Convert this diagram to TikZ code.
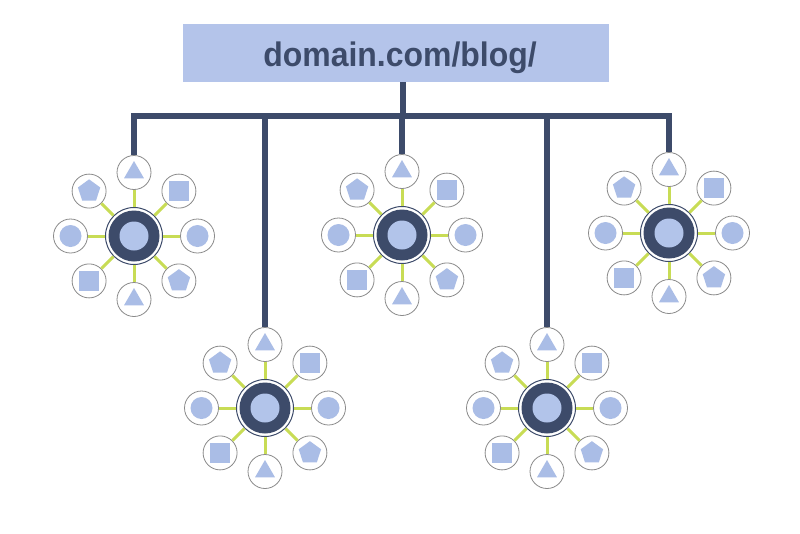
\documentclass[tikz,border=0pt]{standalone}
\usepackage{fontspec}
\setmainfont{Liberation Sans}
\newfontfamily\hdrfont[FakeStretch=0.94]{Liberation Sans}
\usetikzlibrary{shapes.geometric}
\definecolor{navy}{HTML}{3D4B6A}
\definecolor{lblue}{HTML}{AABDE6}
\definecolor{corblue}{HTML}{B2C4EA}
\definecolor{hdrblue}{HTML}{B4C4EA}
\definecolor{lime}{HTML}{C8DC55}
\definecolor{ringgray}{HTML}{8A8A8A}
\tikzset{
  hubring/.style={circle, draw=navy, line width=1pt, fill=white, minimum size=57pt, inner sep=0pt},
  hubdisk/.style={circle, fill=navy, minimum size=51pt, inner sep=0pt},
  hubcore/.style={circle, fill=corblue, minimum size=29pt, inner sep=0pt},
  sat/.style={circle, draw=ringgray, line width=0.8pt, fill=white, minimum size=34pt, inner sep=0pt},
  tri/.style={regular polygon, regular polygon sides=3, fill=lblue, minimum size=23pt, inner sep=0pt},
  pent/.style={regular polygon, regular polygon sides=5, fill=lblue, minimum size=23.5pt, inner sep=0pt},
  sq/.style={rectangle, fill=lblue, minimum size=20.5pt, inner sep=0pt},
  dot/.style={circle, fill=lblue, minimum size=22pt, inner sep=0pt},
  spoke/.style={draw=lime, line width=3pt},
  trunk/.style={draw=navy, line width=6.5pt, line join=miter},
  header/.style={fill=hdrblue, minimum width=426pt, minimum height=58pt, inner sep=0pt},
  title/.style={inner sep=0pt, font=\hdrfont\bfseries\fontsize{34}{40}\selectfont, text=navy}
}
\begin{document}
\begin{tikzpicture}[x=1pt,y=-1pt]
\useasboundingbox[fill=white] (0,0) rectangle (800,533);
\node[header] (hdr) at (396,53) {};
\node[title, anchor=base] (ttl) at (400,66.5) {domain.com/blog/};
\coordinate (j) at (403,116);
\foreach \n/\x/\y in {1/134/236, 2/265/408, 3/402/235, 4/669/233, 5/547/408}{
  \node[hubring] (c\n) at (\x,\y) {};
  \node[hubdisk] (c\n d) at (c\n) {};
  \node[hubcore] (c\n c) at (c\n) {};
  \foreach \k/\a/\s in {1/270/tri, 2/315/sq, 3/0/dot, 4/45/pent, 5/90/tri, 6/135/sq, 7/180/dot, 8/225/pent}{
    \node[sat] (c\n s\k) at ([shift={(\a:63.5)}]c\n) {};
    \node[\s] (c\n i\k) at (c\n s\k) {};
    \draw[spoke] (c\n) -- (c\n s\k);
  }
}
\draw[trunk] (j |- hdr.south) -- (j);
\draw[trunk] (c1s1.north) |- (j) -| (c4s1.north);
\draw[trunk] (c2s1.north) -- (c2s1.north |- j);
\draw[trunk] (c3s1.north) -- (c3s1.north |- j);
\draw[trunk] (c5s1.north) -- (c5s1.north |- j);
\end{tikzpicture}
\end{document}
